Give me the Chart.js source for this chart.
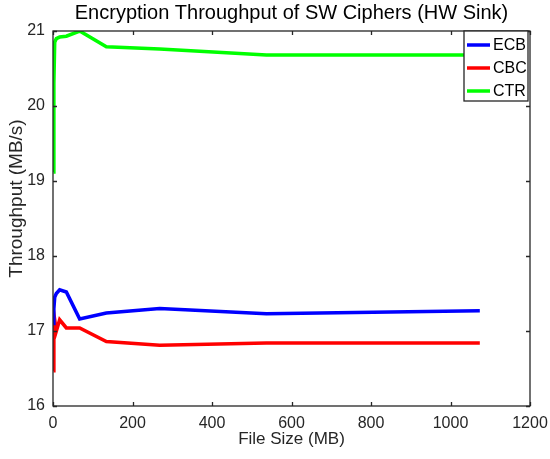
<!DOCTYPE html>
<html>
<head>
<meta charset="utf-8">
<script src="https://cdn.jsdelivr.net/npm/chart.js@4/dist/chart.umd.min.js"></script>
<style>
  html, body { margin: 0; padding: 0; background: #fff; }
  #wrap { width: 550px; height: 459px; }
</style>
</head>
<body>
<div id="wrap"><canvas id="c" width="550" height="459"></canvas></div>
<script>
// File sizes (MB) for each measurement: 1 MiB ... 1024 MiB
const fileSizes = [1.05, 2.10, 4.19, 8.39, 16.78, 33.55, 67.11, 134.22, 268.44, 536.87, 1073.74];
// Throughput (MB/s) per cipher mode
const ecb = [17.10, 17.30, 17.45, 17.50, 17.55, 17.52, 17.16, 17.24, 17.30, 17.23, 17.27];
const cbc = [16.47, 17.00, 17.15, 17.00, 17.15, 17.04, 17.04, 16.86, 16.81, 16.84, 16.84];
const ctr = [19.12, 20.30, 20.85, 20.90, 20.92, 20.93, 21.00, 20.79, 20.76, 20.68, 20.68];

const seriesNames = ['ECB', 'CBC', 'CTR'];
const seriesColors = ['#0000ff', '#ff0000', '#00ff00'];
const xTicks = [0, 200, 400, 600, 800, 1000, 1200];
const yTicks = [16, 17, 18, 19, 20, 21];
const titleText = 'Encryption Throughput of SW Ciphers (HW Sink)';
const yTitleText = 'Throughput (MB/s)';

const FONT = '"Liberation Sans", Arial, Helvetica, sans-serif';
const INK = '#262626';

function toPoints(ys) {
  return fileSizes.map((x, i) => ({ x: x, y: ys[i] }));
}

// Boxed axes with inward ticks on all four sides, the title and the y label
const framePlugin = {
  id: 'frame',
  afterDraw(chart) {
    const { ctx, chartArea: a, scales } = chart;
    ctx.save();
    ctx.strokeStyle = INK;
    ctx.lineWidth = 1.3;
    ctx.beginPath();
    const L = 4;
    xTicks.forEach(v => {
      const px = Math.round(scales.x.getPixelForValue(v)) + 0.5;
      ctx.moveTo(px, a.bottom); ctx.lineTo(px, a.bottom - L);
      ctx.moveTo(px, a.top); ctx.lineTo(px, a.top + L);
    });
    yTicks.forEach(v => {
      const py = Math.round(scales.y.getPixelForValue(v)) + 0.5;
      ctx.moveTo(a.left, py); ctx.lineTo(a.left + L, py);
      ctx.moveTo(a.right, py); ctx.lineTo(a.right - L, py);
    });
    ctx.stroke();
    ctx.strokeRect(a.left, a.top, a.right - a.left, a.bottom - a.top);

    ctx.fillStyle = '#000';
    ctx.font = '20px ' + FONT;
    ctx.textAlign = 'center';
    ctx.textBaseline = 'middle';
    ctx.fillText(titleText, (a.left + a.right) / 2, 13);

    ctx.fillStyle = INK;
    ctx.font = '19px ' + FONT;
    ctx.translate(17, (a.top + a.bottom) / 2 - 20);
    ctx.rotate(-Math.PI / 2);
    ctx.fillText(yTitleText, 0, 0);
    ctx.restore();
  }
};

// Legend box in the upper-right corner of the plot
const boxLegendPlugin = {
  id: 'boxLegend',
  afterDraw(chart) {
    const { ctx, chartArea: a } = chart;
    const w = 64, h = 70;
    const x0 = a.right - w - 2, y0 = a.top;
    ctx.save();
    ctx.fillStyle = '#fff';
    ctx.fillRect(x0, y0, w, h);
    ctx.strokeStyle = INK;
    ctx.lineWidth = 1.3;
    ctx.strokeRect(x0, y0, w, h);
    ctx.font = '16px ' + FONT;
    ctx.textBaseline = 'middle';
    ctx.textAlign = 'left';
    chart.data.datasets.forEach((ds, i) => {
      const y = y0 + 14 + i * 23;
      ctx.strokeStyle = ds.borderColor;
      ctx.lineWidth = 3.5;
      ctx.beginPath();
      ctx.moveTo(x0 + 3, y); ctx.lineTo(x0 + 26, y);
      ctx.stroke();
      ctx.fillStyle = '#000';
      ctx.fillText(ds.label, x0 + 29, y + 1);
    });
    ctx.restore();
  }
};

new Chart(document.getElementById('c'), {
  type: 'line',
  data: {
    datasets: [ecb, cbc, ctr].map((ys, i) => ({
      label: seriesNames[i],
      data: toPoints(ys),
      borderColor: seriesColors[i],
      backgroundColor: seriesColors[i],
      borderWidth: 3.6,
      pointRadius: 0,
      tension: 0,
      fill: false
    }))
  },
  options: {
    responsive: false,
    animation: false,
    layout: { padding: { top: 31, right: 20, left: 0, bottom: 0 } },
    plugins: {
      legend: { display: false },
      title: { display: false },
      tooltip: { enabled: false }
    },
    scales: {
      x: {
        type: 'linear',
        min: 0, max: 1200,
        afterBuildTicks(s) { s.ticks = xTicks.map(v => ({ value: v })); },
        afterFit(s) { s.height = 53; s.paddingLeft = 0; s.paddingRight = 0; },
        grid: { display: false, drawTicks: false },
        border: { display: false },
        ticks: { color: INK, padding: 8, maxRotation: 0, callback: v => String(v), font: { size: 16, family: FONT } },
        title: { display: true, text: 'File Size (MB)', color: INK, padding: { top: 0, bottom: 9 }, font: { size: 17, family: FONT } }
      },
      y: {
        type: 'linear',
        min: 16, max: 21,
        afterBuildTicks(s) { s.ticks = yTicks.map(v => ({ value: v })); },
        afterFit(s) { s.width = 53; s.paddingTop = 0; s.paddingBottom = 0; },
        grid: { display: false, drawTicks: false },
        border: { display: false },
        ticks: { color: INK, padding: 8, callback: v => String(v), font: { size: 16, family: FONT } },
        title: { display: false }
      }
    }
  },
  plugins: [framePlugin, boxLegendPlugin]
});
</script>
</body>
</html>
